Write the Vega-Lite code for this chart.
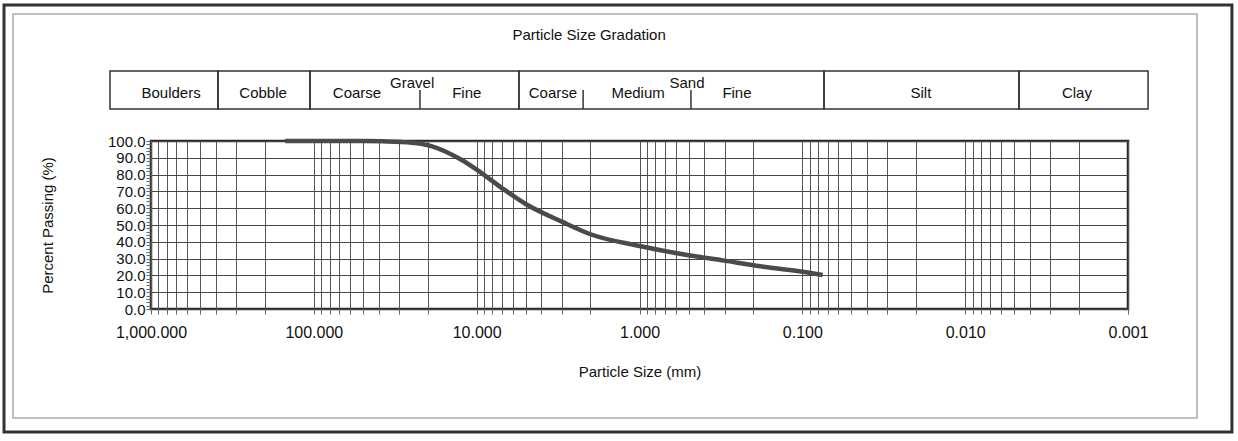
{
  "$schema": "https://vega.github.io/schema/vega-lite/v6.json",
  "width": 977,
  "height": 168,
  "autosize": {"type": "none"},
  "padding": {"left": 151, "top": 141, "right": 110, "bottom": 132},
  "background": "white",
  "config": {
    "font": "Liberation Sans",
    "view": {"stroke": "#2a2a2a", "strokeWidth": 2.5}
  },
  "datasets": {
    "curve": [
      {"size": 150, "pct": 100},
      {"size": 75, "pct": 100},
      {"size": 50, "pct": 100},
      {"size": 37.5, "pct": 99.8},
      {"size": 25, "pct": 99},
      {"size": 19, "pct": 97},
      {"size": 12.5, "pct": 89},
      {"size": 10, "pct": 83},
      {"size": 7, "pct": 72},
      {"size": 5, "pct": 62.5},
      {"size": 3, "pct": 52},
      {"size": 2, "pct": 44.5},
      {"size": 1, "pct": 37.5},
      {"size": 0.5, "pct": 32},
      {"size": 0.3, "pct": 28.8},
      {"size": 0.2, "pct": 26},
      {"size": 0.1, "pct": 22.2},
      {"size": 0.075, "pct": 20.2}
    ],
    "zones": [
      {"zone": "Boulders", "from": 1786, "to": 387.8},
      {"zone": "Cobble", "from": 387.8, "to": 105.6},
      {"zone": "Gravel", "from": 105.6, "to": 5.5},
      {"zone": "Sand", "from": 5.5, "to": 0.0736},
      {"zone": "Silt", "from": 0.0736, "to": 0.00467},
      {"zone": "Clay", "from": 0.00467, "to": 0.000753}
    ],
    "splits": [
      {"split": "Gravel coarse/fine", "size": 22.3},
      {"split": "Sand coarse/medium", "size": 2.22},
      {"split": "Sand medium/fine", "size": 0.483}
    ],
    "sublabels": [
      {"label": "Boulders", "size": 753},
      {"label": "Cobble", "size": 205},
      {"label": "Coarse", "size": 54.3},
      {"label": "Fine", "size": 11.5},
      {"label": "Coarse", "size": 3.4},
      {"label": "Medium", "size": 1.02},
      {"label": "Fine", "size": 0.252},
      {"label": "Silt", "size": 0.0187},
      {"label": "Clay", "size": 0.00206}
    ],
    "grouplabels": [
      {"label": "Gravel", "size": 24.9},
      {"label": "Sand", "size": 0.511}
    ]
  },
  "layer": [
    {
      "data": {"values": [{"frame": "outer"}]},
      "mark": {"type": "rect", "fillOpacity": 0, "stroke": "#333", "strokeWidth": 3, "clip": false},
      "encoding": {
        "x": {"datum": 7993},
        "x2": {"datum": 0.00023},
        "y": {"datum": 181},
        "y2": {"datum": -73.2}
      }
    },
    {
      "data": {"values": [{"frame": "inner"}]},
      "mark": {"type": "rect", "fillOpacity": 0, "stroke": "#aaa", "strokeWidth": 1.5, "clip": false},
      "encoding": {
        "x": {"datum": 7040},
        "x2": {"datum": 0.000377},
        "y": {"datum": 175.6},
        "y2": {"datum": -64.9}
      }
    },
    {
      "data": {"values": [{"title": "Particle Size Gradation"}]},
      "mark": {"type": "text", "fontSize": 15, "color": "#111", "baseline": "middle", "align": "center"},
      "encoding": {
        "x": {"datum": 2.04},
        "y": {"datum": 163.1},
        "text": {"field": "title"}
      }
    },
    {
      "data": {"name": "curve"},
      "mark": {"type": "line", "interpolate": "monotone", "color": "#4a4a4a", "strokeWidth": 4.5},
      "encoding": {
        "x": {
          "field": "size",
          "type": "quantitative",
          "scale": {"type": "log", "domain": [1000, 0.001], "nice": false},
          "axis": {
            "title": "Particle Size (mm)",
            "titleFontSize": 15,
            "titleFontWeight": "normal",
            "titleColor": "#111",
            "titlePadding": 24,
            "tickCount": 100,
            "values": [1000, 900, 800, 700, 600, 500, 400, 300, 200, 100, 90, 80, 70, 60, 50, 40, 30, 20, 10, 9, 8, 7, 6, 5, 4, 3, 2, 1, 0.9, 0.8, 0.7, 0.6, 0.5, 0.4, 0.3, 0.2, 0.1, 0.09, 0.08, 0.07, 0.06, 0.05, 0.04, 0.03, 0.02, 0.01, 0.009, 0.008, 0.007, 0.006, 0.005, 0.004, 0.003, 0.002, 0.001],
            "format": ",.3f",
            "labelExpr": "indexof(['1000','100','10','1','0.1','0.01','0.001'], toString(datum.value)) >= 0 ? datum.label : ''",
            "labelOverlap": false,
            "labelFlush": false,
            "labelFontSize": 16,
            "labelColor": "#111",
            "labelPadding": 10,
            "grid": true,
            "gridColor": "#555",
            "gridWidth": 1,
            "gridOpacity": 1,
            "domain": false,
            "ticks": true,
            "tickColor": "#666",
            "tickSize": 5
          }
        },
        "y": {
          "field": "pct",
          "type": "quantitative",
          "scale": {"domain": [0, 100], "nice": false},
          "axis": {
            "title": "Percent Passing (%)",
            "titleFontSize": 15,
            "titleFontWeight": "normal",
            "titleColor": "#111",
            "titlePadding": 52,
            "tickCount": 100,
            "values": [0, 2, 4, 6, 8, 10, 12, 14, 16, 18, 20, 22, 24, 26, 28, 30, 32, 34, 36, 38, 40, 42, 44, 46, 48, 50, 52, 54, 56, 58, 60, 62, 64, 66, 68, 70, 72, 74, 76, 78, 80, 82, 84, 86, 88, 90, 92, 94, 96, 98, 100],
            "format": ".1f",
            "labelExpr": "datum.value % 10 === 0 ? datum.label : ''",
            "labelOverlap": false,
            "labelFlush": false,
            "labelFontSize": 15,
            "labelColor": "#111",
            "labelPadding": 1,
            "grid": true,
            "gridColor": "#444",
            "gridWidth": 1,
            "gridOpacity": {"condition": {"test": "datum.value % 10 === 0", "value": 1}, "value": 0},
            "domain": false,
            "tickColor": "#666",
            "tickSize": 5
          }
        }
      }
    },
    {
      "data": {"name": "zones"},
      "mark": {"type": "rect", "fill": "white", "fillOpacity": 0, "stroke": "#333", "strokeWidth": 1.5, "clip": false},
      "encoding": {
        "x": {"field": "from", "type": "quantitative"},
        "x2": {"field": "to"},
        "y": {"datum": 141.7},
        "y2": {"datum": 119}
      }
    },
    {
      "data": {"name": "splits"},
      "mark": {"type": "rule", "stroke": "#333", "strokeWidth": 1.5},
      "encoding": {
        "x": {"field": "size", "type": "quantitative"},
        "y": {"datum": 119},
        "y2": {"datum": 130.4}
      }
    },
    {
      "data": {"name": "sublabels"},
      "mark": {"type": "text", "fontSize": 15, "color": "#111", "baseline": "middle", "align": "center"},
      "encoding": {
        "x": {"field": "size", "type": "quantitative"},
        "y": {"datum": 128.3},
        "text": {"field": "label"}
      }
    },
    {
      "data": {"name": "grouplabels"},
      "mark": {"type": "text", "fontSize": 15, "color": "#111", "baseline": "middle", "align": "center"},
      "encoding": {
        "x": {"field": "size", "type": "quantitative"},
        "y": {"datum": 134.8},
        "text": {"field": "label"}
      }
    }
  ]
}
